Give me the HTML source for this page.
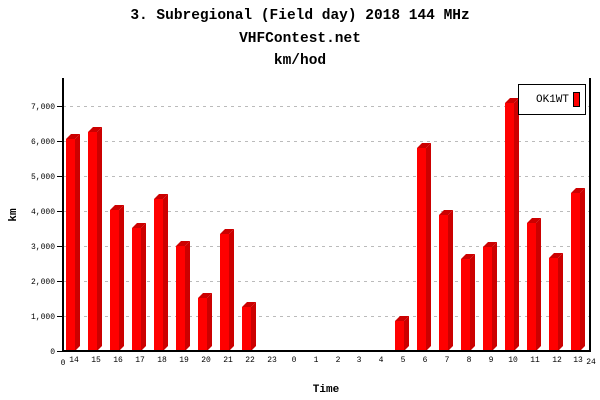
<!DOCTYPE html>
<html><head><meta charset="utf-8"><style>
body{margin:0;background:#fff}
svg{display:block;font-family:"Liberation Mono",monospace}
</style></head><body>
<svg width="600" height="400" xmlns="http://www.w3.org/2000/svg">
<rect width="600" height="400" fill="#fff"/>
<g font-size="14.5" font-weight="bold" text-anchor="middle" fill="#000">
<text x="300" y="19">3. Subregional (Field day) 2018 144 MHz</text>
<text x="300" y="42">VHFContest.net</text>
<text x="300" y="64">km/hod</text>
</g>
<g stroke="#bbb" stroke-dasharray="3,4" stroke-width="1">
<line x1="63" y1="316.5" x2="590" y2="316.5"/>
<line x1="63" y1="281.5" x2="590" y2="281.5"/>
<line x1="63" y1="246.5" x2="590" y2="246.5"/>
<line x1="63" y1="211.5" x2="590" y2="211.5"/>
<line x1="63" y1="176.5" x2="590" y2="176.5"/>
<line x1="63" y1="141.5" x2="590" y2="141.5"/>
<line x1="63" y1="106.5" x2="590" y2="106.5"/>
</g>
<g id="bars">
<g transform="translate(74,0)"><polygon points="1,139 6,134 6,346 1,351" fill="#c00"/><polygon points="-8,139 -3,134 6,134 1,139" fill="#c00"/><rect x="-8" y="139" width="9" height="212" fill="#f00"/></g>
<g transform="translate(96,0)"><polygon points="1,132 6,127 6,346 1,351" fill="#c00"/><polygon points="-8,132 -3,127 6,127 1,132" fill="#c00"/><rect x="-8" y="132" width="9" height="219" fill="#f00"/></g>
<g transform="translate(118,0)"><polygon points="1,210 6,205 6,346 1,351" fill="#c00"/><polygon points="-8,210 -3,205 6,205 1,210" fill="#c00"/><rect x="-8" y="210" width="9" height="141" fill="#f00"/></g>
<g transform="translate(140,0)"><polygon points="1,228 6,223 6,346 1,351" fill="#c00"/><polygon points="-8,228 -3,223 6,223 1,228" fill="#c00"/><rect x="-8" y="228" width="9" height="123" fill="#f00"/></g>
<g transform="translate(162,0)"><polygon points="1,199 6,194 6,346 1,351" fill="#c00"/><polygon points="-8,199 -3,194 6,194 1,199" fill="#c00"/><rect x="-8" y="199" width="9" height="152" fill="#f00"/></g>
<g transform="translate(184,0)"><polygon points="1,246 6,241 6,346 1,351" fill="#c00"/><polygon points="-8,246 -3,241 6,241 1,246" fill="#c00"/><rect x="-8" y="246" width="9" height="105" fill="#f00"/></g>
<g transform="translate(206,0)"><polygon points="1,298 6,293 6,346 1,351" fill="#c00"/><polygon points="-8,298 -3,293 6,293 1,298" fill="#c00"/><rect x="-8" y="298" width="9" height="53" fill="#f00"/></g>
<g transform="translate(228,0)"><polygon points="1,234 6,229 6,346 1,351" fill="#c00"/><polygon points="-8,234 -3,229 6,229 1,234" fill="#c00"/><rect x="-8" y="234" width="9" height="117" fill="#f00"/></g>
<g transform="translate(250,0)"><polygon points="1,307 6,302 6,346 1,351" fill="#c00"/><polygon points="-8,307 -3,302 6,302 1,307" fill="#c00"/><rect x="-8" y="307" width="9" height="44" fill="#f00"/></g>
<g transform="translate(403,0)"><polygon points="1,321 6,316 6,346 1,351" fill="#c00"/><polygon points="-8,321 -3,316 6,316 1,321" fill="#c00"/><rect x="-8" y="321" width="9" height="30" fill="#f00"/></g>
<g transform="translate(425,0)"><polygon points="1,148 6,143 6,346 1,351" fill="#c00"/><polygon points="-8,148 -3,143 6,143 1,148" fill="#c00"/><rect x="-8" y="148" width="9" height="203" fill="#f00"/></g>
<g transform="translate(447,0)"><polygon points="1,215 6,210 6,346 1,351" fill="#c00"/><polygon points="-8,215 -3,210 6,210 1,215" fill="#c00"/><rect x="-8" y="215" width="9" height="136" fill="#f00"/></g>
<g transform="translate(469,0)"><polygon points="1,259 6,254 6,346 1,351" fill="#c00"/><polygon points="-8,259 -3,254 6,254 1,259" fill="#c00"/><rect x="-8" y="259" width="9" height="92" fill="#f00"/></g>
<g transform="translate(491,0)"><polygon points="1,247 6,242 6,346 1,351" fill="#c00"/><polygon points="-8,247 -3,242 6,242 1,247" fill="#c00"/><rect x="-8" y="247" width="9" height="104" fill="#f00"/></g>
<g transform="translate(513,0)"><polygon points="1,103 6,98 6,346 1,351" fill="#c00"/><polygon points="-8,103 -3,98 6,98 1,103" fill="#c00"/><rect x="-8" y="103" width="9" height="248" fill="#f00"/></g>
<g transform="translate(535,0)"><polygon points="1,223 6,218 6,346 1,351" fill="#c00"/><polygon points="-8,223 -3,218 6,218 1,223" fill="#c00"/><rect x="-8" y="223" width="9" height="128" fill="#f00"/></g>
<g transform="translate(557,0)"><polygon points="1,258 6,253 6,346 1,351" fill="#c00"/><polygon points="-8,258 -3,253 6,253 1,258" fill="#c00"/><rect x="-8" y="258" width="9" height="93" fill="#f00"/></g>
<g transform="translate(579,0)"><polygon points="1,193 6,188 6,346 1,351" fill="#c00"/><polygon points="-8,193 -3,188 6,188 1,193" fill="#c00"/><rect x="-8" y="193" width="9" height="158" fill="#f00"/></g>
</g>
<g stroke="#000" stroke-width="2" fill="none">
<line x1="63" y1="78" x2="63" y2="352"/>
<line x1="62" y1="351" x2="591" y2="351"/>
<line x1="590" y1="78" x2="590" y2="352"/>
</g>
<g stroke="#000" stroke-width="1">
<line x1="57" y1="351.5" x2="63" y2="351.5"/><line x1="57" y1="316.5" x2="63" y2="316.5"/><line x1="57" y1="281.5" x2="63" y2="281.5"/><line x1="57" y1="246.5" x2="63" y2="246.5"/><line x1="57" y1="211.5" x2="63" y2="211.5"/><line x1="57" y1="176.5" x2="63" y2="176.5"/><line x1="57" y1="141.5" x2="63" y2="141.5"/><line x1="57" y1="106.5" x2="63" y2="106.5"/>
</g>
<g font-size="8" text-anchor="end" fill="#000">
<text x="55" y="354">0</text><text x="55" y="319">1,000</text><text x="55" y="284">2,000</text><text x="55" y="249">3,000</text><text x="55" y="214">4,000</text><text x="55" y="179">5,000</text><text x="55" y="144">6,000</text><text x="55" y="109">7,000</text>
</g>
<g font-size="8" text-anchor="middle" fill="#000">
<text x="74" y="362">14</text><text x="96" y="362">15</text><text x="118" y="362">16</text><text x="140" y="362">17</text><text x="162" y="362">18</text><text x="184" y="362">19</text><text x="206" y="362">20</text><text x="228" y="362">21</text><text x="250" y="362">22</text><text x="272" y="362">23</text><text x="294" y="362">0</text><text x="316" y="362">1</text><text x="338" y="362">2</text><text x="359" y="362">3</text><text x="381" y="362">4</text><text x="403" y="362">5</text><text x="425" y="362">6</text><text x="447" y="362">7</text><text x="469" y="362">8</text><text x="491" y="362">9</text><text x="513" y="362">10</text><text x="535" y="362">11</text><text x="557" y="362">12</text><text x="578" y="362">13</text>
<text x="63" y="365">0</text><text x="591" y="364">24</text>
</g>
<text x="326" y="392" font-size="11" font-weight="bold" text-anchor="middle">Time</text>
<text x="0" y="0" font-size="11" font-weight="bold" text-anchor="middle" transform="translate(16,215) rotate(-90)">km</text>
<rect x="518.5" y="84.5" width="67" height="30" fill="#fff" stroke="#000"/>
<text x="536" y="102" font-size="11">OK1WT</text>
<rect x="573.5" y="92.5" width="6" height="14" fill="#f00" stroke="#000"/>
</svg>
</body></html>
